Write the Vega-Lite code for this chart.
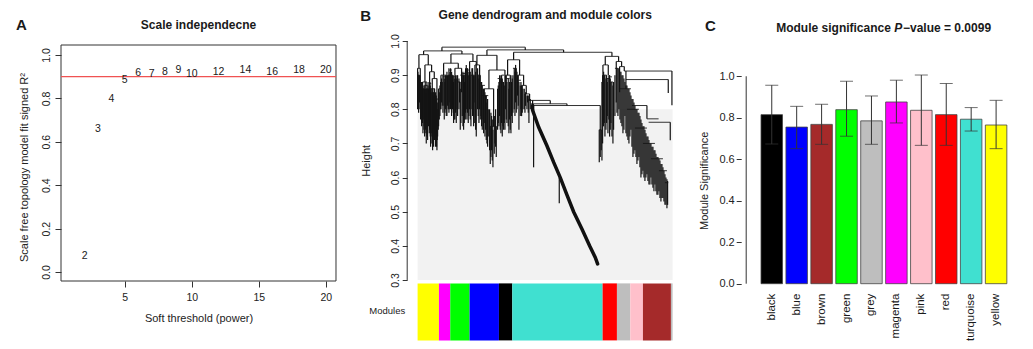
{
 "$schema": "https://vega.github.io/schema/vega-lite/v6.json",
 "background": "white",
 "padding": {"left": 15, "top": 8, "right": 0, "bottom": 0},
 "bounds": "flush",
 "spacing": 68.6,
 "config": {
  "font": "Liberation Sans",
  "view": {"stroke": null},
  "axis": {"grid": false, "labelColor": "#222", "titleColor": "#222", "tickColor": "#333", "domainColor": "#333", "labelFontSize": 10.5, "titleFontSize": 11, "titleFontWeight": "normal"},
  "text": {"color": "#1a1a1a"}
 },
 "datasets": {
  "modules": [
   {"module": "black", "pos": 0.7, "ms": 0.815, "lo": 0.673, "hi": 0.957},
   {"module": "blue", "pos": 1.9, "ms": 0.755, "lo": 0.651, "hi": 0.855},
   {"module": "brown", "pos": 3.1, "ms": 0.768, "lo": 0.672, "hi": 0.865},
   {"module": "green", "pos": 4.3, "ms": 0.839, "lo": 0.711, "hi": 0.976},
   {"module": "grey", "pos": 5.5, "ms": 0.785, "lo": 0.672, "hi": 0.905},
   {"module": "magenta", "pos": 6.7, "ms": 0.876, "lo": 0.775, "hi": 0.981},
   {"module": "pink", "pos": 7.9, "ms": 0.836, "lo": 0.667, "hi": 1.006},
   {"module": "red", "pos": 9.1, "ms": 0.815, "lo": 0.667, "hi": 0.965},
   {"module": "turquoise", "pos": 10.3, "ms": 0.793, "lo": 0.736, "hi": 0.849},
   {"module": "yellow", "pos": 11.5, "ms": 0.765, "lo": 0.651, "hi": 0.884}
  ]
 },
 "hconcat": [
  {
   "width": 287.1,
   "height": 240,
   "layer": [
    {
     "data": {"values": [{}]},
     "mark": {"type": "rect", "fillOpacity": 0, "stroke": "#333", "strokeWidth": 1},
     "encoding": {
      "x": {"datum": 0.24, "type": "quantitative", "scale": {"domain": [0.24, 21.663], "nice": false, "zero": false},
       "axis": {"values": [5, 10, 15, 20], "domain": false, "tickSize": 6, "labelPadding": 5, "labelFlush": false, "title": "Soft threshold (power)", "titleX": 137.5, "titleY": 37, "titleAlign": "center", "titleBaseline": "middle"}},
      "x2": {"datum": 20.76},
      "y": {"datum": -0.0415, "type": "quantitative", "scale": {"domain": [-0.0415, 1.0645], "nice": false, "zero": false},
       "axis": {"values": [0, 0.2, 0.4, 0.6, 0.8, 1], "format": ".1f", "domain": false, "tickSize": 6, "labelAngle": -90, "labelAlign": "center", "labelBaseline": "bottom", "labelPadding": 4, "title": "Scale free topology model fit signed R²", "titleAngle": -90, "titleX": -36.7, "titleY": 126, "titleAlign": "center", "titleBaseline": "middle"}},
      "y2": {"datum": 1.046}
     }
    },
    {
     "data": {"values": [{}]},
     "mark": {"type": "rule", "color": "#f05252", "strokeWidth": 1.2},
     "encoding": {"x": {"datum": 0.24, "type": "quantitative"}, "x2": {"datum": 20.76}, "y": {"datum": 0.9, "type": "quantitative"}}
    },
    {
     "data": {"values": [
      {"power": 2, "r2": 0.074}, {"power": 3, "r2": 0.657}, {"power": 4, "r2": 0.797}, {"power": 5, "r2": 0.885},
      {"power": 6, "r2": 0.918}, {"power": 7, "r2": 0.912}, {"power": 8, "r2": 0.923}, {"power": 9, "r2": 0.929},
      {"power": 10, "r2": 0.912}, {"power": 12, "r2": 0.92}, {"power": 14, "r2": 0.929}, {"power": 16, "r2": 0.922},
      {"power": 18, "r2": 0.929}, {"power": 20, "r2": 0.932}
     ]},
     "mark": {"type": "text", "fontSize": 10.5, "align": "center", "baseline": "middle"},
     "encoding": {"x": {"field": "power", "type": "quantitative"}, "y": {"field": "r2", "type": "quantitative"}, "text": {"field": "power", "type": "nominal"}}
    },
    {
     "data": {"values": [{}]},
     "mark": {"type": "text", "text": "A", "fontSize": 15, "fontWeight": "bold", "align": "left", "baseline": "middle"},
     "encoding": {"x": {"datum": -3.118, "type": "quantitative"}, "y": {"datum": 1.137, "type": "quantitative"}}
    },
    {
     "data": {"values": [{}]},
     "mark": {"type": "text", "text": "Scale independecne", "fontSize": 12, "fontWeight": "bold", "align": "center", "baseline": "middle"},
     "encoding": {"x": {"datum": 10.5, "type": "quantitative"}, "y": {"datum": 1.137, "type": "quantitative"}}
    }
   ]
  },
  {
   "width": 255,
   "height": 299.4,
   "layer": [
    {
     "data": {"values": [{}]},
     "mark": {"type": "rect", "fill": "#f2f2f2"},
     "encoding": {
      "x": {"datum": 0, "type": "quantitative", "scale": {"domain": [0, 765], "nice": false, "zero": false}, "axis": null},
      "x2": {"datum": 765},
      "y": {"datum": 0.3, "type": "quantitative", "scale": {"domain": [0.123, 1.0], "nice": false, "zero": false},
       "axis": {"values": [0.3, 0.4, 0.5, 0.6, 0.7, 0.8, 0.9, 1.0], "format": ".1f", "domain": false, "offset": 10.4, "tickSize": 5, "labelAngle": -90, "labelAlign": "center", "labelBaseline": "bottom", "labelPadding": 2, "title": "Height", "titleAngle": -90, "titleX": -41, "titleY": 119.3, "titleAlign": "center", "titleBaseline": "middle"}},
      "y2": {"datum": 0.8}
     }
    },
    {
     "data": {"values": [{}]},
     "mark": {"type": "rule", "color": "#333", "strokeWidth": 1},
     "encoding": {"x": {"datum": -31.2, "type": "quantitative"}, "y": {"datum": 0.3, "type": "quantitative"}, "y2": {"datum": 1.0}}
    },
    {
     "data": {"values": [
      {"module": "yellow", "start": 0, "end": 64}, {"module": "magenta", "start": 64, "end": 98},
      {"module": "green", "start": 98, "end": 156}, {"module": "blue", "start": 156, "end": 244},
      {"module": "black", "start": 244, "end": 284}, {"module": "turquoise", "start": 284, "end": 555},
      {"module": "red", "start": 555, "end": 598}, {"module": "grey", "start": 598, "end": 638},
      {"module": "pink", "start": 638, "end": 676}, {"module": "brown", "start": 676, "end": 760},
      {"module": "grey", "start": 760, "end": 765}
     ]},
     "mark": {"type": "rect"},
     "encoding": {
      "x": {"field": "start", "type": "quantitative"},
      "x2": {"field": "end"},
      "y": {"datum": 0.29, "type": "quantitative"},
      "y2": {"datum": 0.123},
      "color": {"field": "module", "type": "nominal", "legend": null,
       "scale": {"domain": ["black", "blue", "brown", "green", "grey", "magenta", "pink", "red", "turquoise", "yellow"],
                 "range": ["#000000", "#0000FF", "#A52A2A", "#00FF00", "#BEBEBE", "#FF00FF", "#FFC0CB", "#FF0000", "#40E0D0", "#FFFF00"]}}
     }
    },
    {
     "data": {"values": [{}]},
     "mark": {"type": "text", "text": "Modules", "fontSize": 9.5, "align": "right", "baseline": "middle"},
     "encoding": {"x": {"datum": -37, "type": "quantitative"}, "y": {"datum": 0.2083, "type": "quantitative"}}
    },
    {
     "data": {"values": [
      {"a": 73, "z": 323, "h": 0.982}, {"a": 208, "z": 438, "h": 0.974}, {"a": 288, "z": 583, "h": 0.967}, {"a": 18, "z": 133, "h": 0.971},
      {"a": 4, "z": 32, "h": 0.96}, {"a": 0, "z": 8, "h": 0.92}, {"a": 22, "z": 42, "h": 0.93}, {"a": 15, "z": 28, "h": 0.88},
      {"a": 36, "z": 50, "h": 0.91}, {"a": 44, "z": 58, "h": 0.89}, {"a": 0, "z": 6, "h": 0.9}, {"a": 11, "z": 19, "h": 0.86},
      {"a": 25, "z": 33, "h": 0.86}, {"a": 39, "z": 47, "h": 0.86}, {"a": 53, "z": 62, "h": 0.83},
      {"a": 100, "z": 166, "h": 0.962}, {"a": 78, "z": 122, "h": 0.935}, {"a": 70, "z": 86, "h": 0.9}, {"a": 112, "z": 132, "h": 0.92},
      {"a": 156, "z": 176, "h": 0.94}, {"a": 92, "z": 105, "h": 0.9}, {"a": 118, "z": 128, "h": 0.88}, {"a": 128, "z": 144, "h": 0.9},
      {"a": 160, "z": 170, "h": 0.9},
      {"a": 178, "z": 238, "h": 0.958}, {"a": 172, "z": 186, "h": 0.93}, {"a": 214, "z": 262, "h": 0.915}, {"a": 200, "z": 228, "h": 0.86},
      {"a": 218, "z": 236, "h": 0.75}, {"a": 244, "z": 256, "h": 0.88}, {"a": 190, "z": 212, "h": 0.84},
      {"a": 270, "z": 306, "h": 0.945}, {"a": 264, "z": 278, "h": 0.9}, {"a": 300, "z": 318, "h": 0.9}, {"a": 312, "z": 326, "h": 0.87},
      {"a": 322, "z": 336, "h": 0.845}, {"a": 328, "z": 398, "h": 0.826}, {"a": 340, "z": 448, "h": 0.816}, {"a": 345, "z": 548, "h": 0.811},
      {"a": 545, "z": 551, "h": 0.74},
      {"a": 563, "z": 603, "h": 0.955}, {"a": 556, "z": 572, "h": 0.93}, {"a": 553, "z": 560, "h": 0.88}, {"a": 565, "z": 576, "h": 0.89},
      {"a": 580, "z": 586, "h": 0.88}, {"a": 596, "z": 612, "h": 0.94}, {"a": 606, "z": 620, "h": 0.925}, {"a": 620, "z": 763, "h": 0.912},
      {"a": 625, "z": 752, "h": 0.887}, {"a": 643, "z": 688, "h": 0.811}, {"a": 688, "z": 723, "h": 0.772}, {"a": 693, "z": 758, "h": 0.762},
      {"a": 604, "z": 640, "h": 0.86}, {"a": 628, "z": 664, "h": 0.8}, {"a": 652, "z": 688, "h": 0.745}, {"a": 676, "z": 712, "h": 0.7},
      {"a": 700, "z": 736, "h": 0.655}, {"a": 724, "z": 748, "h": 0.62}, {"a": 742, "z": 752, "h": 0.585},
      {"a": 1, "z": 10, "h": 0.885}, {"a": 20, "z": 30, "h": 0.87}, {"a": 34, "z": 41, "h": 0.875}, {"a": 45, "z": 52, "h": 0.86},
      {"a": 63, "z": 72, "h": 0.86}, {"a": 76, "z": 88, "h": 0.895}, {"a": 94, "z": 103, "h": 0.915}, {"a": 107, "z": 116, "h": 0.895},
      {"a": 134, "z": 143, "h": 0.905}, {"a": 146, "z": 154, "h": 0.915}, {"a": 180, "z": 188, "h": 0.9}, {"a": 192, "z": 202, "h": 0.87},
      {"a": 240, "z": 248, "h": 0.89}, {"a": 252, "z": 260, "h": 0.9}, {"a": 266, "z": 276, "h": 0.89}, {"a": 286, "z": 296, "h": 0.92},
      {"a": 302, "z": 310, "h": 0.885}, {"a": 558, "z": 567, "h": 0.9}, {"a": 574, "z": 583, "h": 0.895}, {"a": 592, "z": 601, "h": 0.92}
     ]},
     "mark": {"type": "rule", "color": "#333", "strokeWidth": 1},
     "encoding": {"x": {"field": "a", "type": "quantitative"}, "x2": {"field": "z"}, "y": {"field": "h", "type": "quantitative"}}
    },
    {
     "data": {"values": [
      {"p": 73, "t": 0.982, "b": 0.971}, {"p": 323, "t": 0.982, "b": 0.974}, {"p": 208, "t": 0.974, "b": 0.958}, {"p": 438, "t": 0.974, "b": 0.967},
      {"p": 288, "t": 0.967, "b": 0.945}, {"p": 583, "t": 0.967, "b": 0.955}, {"p": 18, "t": 0.971, "b": 0.96}, {"p": 133, "t": 0.971, "b": 0.962},
      {"p": 4, "t": 0.96, "b": 0.92}, {"p": 32, "t": 0.96, "b": 0.93}, {"p": 0, "t": 0.92, "b": 0.8}, {"p": 8, "t": 0.92, "b": 0.86},
      {"p": 22, "t": 0.93, "b": 0.88}, {"p": 42, "t": 0.93, "b": 0.91}, {"p": 15, "t": 0.88, "b": 0.76}, {"p": 28, "t": 0.88, "b": 0.72},
      {"p": 36, "t": 0.91, "b": 0.74}, {"p": 50, "t": 0.91, "b": 0.89}, {"p": 44, "t": 0.89, "b": 0.7}, {"p": 58, "t": 0.89, "b": 0.68},
      {"p": 2, "t": 0.9, "b": 0.84}, {"p": 6, "t": 0.9, "b": 0.82}, {"p": 11, "t": 0.88, "b": 0.78}, {"p": 13, "t": 0.86, "b": 0.8},
      {"p": 19, "t": 0.86, "b": 0.74}, {"p": 25, "t": 0.85, "b": 0.73}, {"p": 31, "t": 0.87, "b": 0.79}, {"p": 33, "t": 0.86, "b": 0.75},
      {"p": 39, "t": 0.86, "b": 0.69}, {"p": 47, "t": 0.85, "b": 0.71}, {"p": 53, "t": 0.84, "b": 0.75}, {"p": 55, "t": 0.83, "b": 0.7},
      {"p": 62, "t": 0.8, "b": 0.74},
      {"p": 100, "t": 0.962, "b": 0.935}, {"p": 166, "t": 0.962, "b": 0.94}, {"p": 78, "t": 0.935, "b": 0.9}, {"p": 122, "t": 0.935, "b": 0.92},
      {"p": 70, "t": 0.9, "b": 0.8}, {"p": 86, "t": 0.9, "b": 0.78}, {"p": 112, "t": 0.92, "b": 0.77}, {"p": 132, "t": 0.92, "b": 0.85},
      {"p": 156, "t": 0.94, "b": 0.8}, {"p": 176, "t": 0.94, "b": 0.72},
      {"p": 74, "t": 0.88, "b": 0.81}, {"p": 82, "t": 0.88, "b": 0.79}, {"p": 92, "t": 0.9, "b": 0.8}, {"p": 97, "t": 0.91, "b": 0.82},
      {"p": 105, "t": 0.9, "b": 0.8}, {"p": 108, "t": 0.88, "b": 0.76}, {"p": 118, "t": 0.9, "b": 0.8}, {"p": 126, "t": 0.88, "b": 0.82},
      {"p": 128, "t": 0.86, "b": 0.74}, {"p": 138, "t": 0.9, "b": 0.74}, {"p": 141, "t": 0.88, "b": 0.77}, {"p": 144, "t": 0.92, "b": 0.79},
      {"p": 160, "t": 0.9, "b": 0.75}, {"p": 163, "t": 0.92, "b": 0.8}, {"p": 170, "t": 0.9, "b": 0.76},
      {"p": 178, "t": 0.958, "b": 0.93}, {"p": 238, "t": 0.958, "b": 0.915}, {"p": 172, "t": 0.93, "b": 0.82}, {"p": 186, "t": 0.93, "b": 0.8},
      {"p": 214, "t": 0.915, "b": 0.86}, {"p": 262, "t": 0.915, "b": 0.74}, {"p": 200, "t": 0.86, "b": 0.76}, {"p": 228, "t": 0.86, "b": 0.75},
      {"p": 218, "t": 0.75, "b": 0.64}, {"p": 236, "t": 0.75, "b": 0.66},
      {"p": 190, "t": 0.88, "b": 0.78}, {"p": 196, "t": 0.86, "b": 0.77}, {"p": 204, "t": 0.84, "b": 0.74}, {"p": 208, "t": 0.82, "b": 0.7},
      {"p": 212, "t": 0.8, "b": 0.72}, {"p": 222, "t": 0.78, "b": 0.68}, {"p": 226, "t": 0.74, "b": 0.63}, {"p": 232, "t": 0.78, "b": 0.7},
      {"p": 244, "t": 0.88, "b": 0.75}, {"p": 250, "t": 0.9, "b": 0.73}, {"p": 256, "t": 0.88, "b": 0.75},
      {"p": 270, "t": 0.945, "b": 0.9}, {"p": 306, "t": 0.945, "b": 0.9}, {"p": 264, "t": 0.9, "b": 0.8}, {"p": 278, "t": 0.9, "b": 0.74},
      {"p": 268, "t": 0.88, "b": 0.76}, {"p": 274, "t": 0.86, "b": 0.73}, {"p": 282, "t": 0.88, "b": 0.78},
      {"p": 300, "t": 0.9, "b": 0.84}, {"p": 318, "t": 0.9, "b": 0.87}, {"p": 312, "t": 0.87, "b": 0.78}, {"p": 326, "t": 0.87, "b": 0.845},
      {"p": 322, "t": 0.845, "b": 0.79}, {"p": 336, "t": 0.845, "b": 0.826},
      {"p": 304, "t": 0.88, "b": 0.74}, {"p": 308, "t": 0.87, "b": 0.78}, {"p": 316, "t": 0.86, "b": 0.8}, {"p": 330, "t": 0.84, "b": 0.82},
      {"p": 334, "t": 0.83, "b": 0.76},
      {"p": 398, "t": 0.826, "b": 0.816}, {"p": 448, "t": 0.816, "b": 0.811}, {"p": 548, "t": 0.811, "b": 0.66}, {"p": 345, "t": 0.826, "b": 0.8},
      {"p": 348, "t": 0.8, "b": 0.63}, {"p": 545, "t": 0.74, "b": 0.645}, {"p": 551, "t": 0.74, "b": 0.68}, {"p": 425, "t": 0.6, "b": 0.525},
      {"p": 563, "t": 0.955, "b": 0.93}, {"p": 603, "t": 0.955, "b": 0.94}, {"p": 556, "t": 0.93, "b": 0.8}, {"p": 572, "t": 0.93, "b": 0.9},
      {"p": 553, "t": 0.88, "b": 0.65}, {"p": 560, "t": 0.9, "b": 0.76}, {"p": 565, "t": 0.89, "b": 0.74}, {"p": 569, "t": 0.88, "b": 0.78},
      {"p": 576, "t": 0.9, "b": 0.72}, {"p": 580, "t": 0.88, "b": 0.76}, {"p": 586, "t": 0.87, "b": 0.7},
      {"p": 596, "t": 0.94, "b": 0.82}, {"p": 612, "t": 0.94, "b": 0.925}, {"p": 606, "t": 0.925, "b": 0.85}, {"p": 620, "t": 0.925, "b": 0.912},
      {"p": 763, "t": 0.912, "b": 0.812}, {"p": 625, "t": 0.912, "b": 0.86}, {"p": 752, "t": 0.887, "b": 0.848}, {"p": 758, "t": 0.762, "b": 0.709},
      {"p": 688, "t": 0.811, "b": 0.772},
      {"p": 604, "t": 0.92, "b": 0.8}, {"p": 610, "t": 0.91, "b": 0.76}, {"p": 616, "t": 0.9, "b": 0.73}, {"p": 622, "t": 0.88, "b": 0.78},
      {"p": 628, "t": 0.87, "b": 0.72}, {"p": 634, "t": 0.86, "b": 0.7}, {"p": 640, "t": 0.84, "b": 0.74}, {"p": 646, "t": 0.83, "b": 0.66},
      {"p": 652, "t": 0.81, "b": 0.68}, {"p": 658, "t": 0.8, "b": 0.64}, {"p": 664, "t": 0.79, "b": 0.66}, {"p": 670, "t": 0.77, "b": 0.6},
      {"p": 676, "t": 0.75, "b": 0.62}, {"p": 682, "t": 0.74, "b": 0.59}, {"p": 688, "t": 0.72, "b": 0.61}, {"p": 694, "t": 0.71, "b": 0.58},
      {"p": 700, "t": 0.7, "b": 0.6}, {"p": 706, "t": 0.69, "b": 0.57}, {"p": 712, "t": 0.68, "b": 0.58}, {"p": 718, "t": 0.66, "b": 0.55},
      {"p": 724, "t": 0.655, "b": 0.56}, {"p": 730, "t": 0.64, "b": 0.53}, {"p": 736, "t": 0.63, "b": 0.54}, {"p": 742, "t": 0.61, "b": 0.52},
      {"p": 748, "t": 0.595, "b": 0.51},
      {"p": 1, "t": 0.91, "b": 0.82}, {"p": 3, "t": 0.9, "b": 0.79}, {"p": 5, "t": 0.89, "b": 0.83}, {"p": 7, "t": 0.9, "b": 0.8},
      {"p": 9, "t": 0.88, "b": 0.77}, {"p": 10, "t": 0.87, "b": 0.81}, {"p": 12, "t": 0.88, "b": 0.75}, {"p": 14, "t": 0.86, "b": 0.78},
      {"p": 16, "t": 0.87, "b": 0.73}, {"p": 17, "t": 0.86, "b": 0.77}, {"p": 20, "t": 0.87, "b": 0.75}, {"p": 21, "t": 0.86, "b": 0.72},
      {"p": 23, "t": 0.88, "b": 0.76}, {"p": 24, "t": 0.86, "b": 0.74}, {"p": 26, "t": 0.85, "b": 0.7}, {"p": 27, "t": 0.86, "b": 0.76},
      {"p": 29, "t": 0.85, "b": 0.74}, {"p": 30, "t": 0.86, "b": 0.71}, {"p": 34, "t": 0.88, "b": 0.77}, {"p": 35, "t": 0.87, "b": 0.73},
      {"p": 37, "t": 0.88, "b": 0.75}, {"p": 38, "t": 0.87, "b": 0.72}, {"p": 40, "t": 0.86, "b": 0.7}, {"p": 41, "t": 0.85, "b": 0.73},
      {"p": 43, "t": 0.86, "b": 0.72}, {"p": 45, "t": 0.85, "b": 0.68}, {"p": 46, "t": 0.86, "b": 0.72}, {"p": 48, "t": 0.84, "b": 0.69},
      {"p": 49, "t": 0.85, "b": 0.74}, {"p": 51, "t": 0.86, "b": 0.71}, {"p": 52, "t": 0.84, "b": 0.73}, {"p": 54, "t": 0.85, "b": 0.69},
      {"p": 56, "t": 0.84, "b": 0.72}, {"p": 57, "t": 0.83, "b": 0.69}, {"p": 59, "t": 0.82, "b": 0.71}, {"p": 60, "t": 0.8, "b": 0.72},
      {"p": 63, "t": 0.86, "b": 0.75}, {"p": 65, "t": 0.85, "b": 0.77}, {"p": 67, "t": 0.87, "b": 0.78}, {"p": 69, "t": 0.88, "b": 0.8},
      {"p": 72, "t": 0.89, "b": 0.82}, {"p": 76, "t": 0.9, "b": 0.79}, {"p": 79, "t": 0.9, "b": 0.81}, {"p": 80, "t": 0.89, "b": 0.77},
      {"p": 84, "t": 0.9, "b": 0.8}, {"p": 88, "t": 0.91, "b": 0.78}, {"p": 90, "t": 0.9, "b": 0.81}, {"p": 94, "t": 0.92, "b": 0.79},
      {"p": 95, "t": 0.9, "b": 0.8}, {"p": 99, "t": 0.92, "b": 0.8}, {"p": 102, "t": 0.91, "b": 0.78}, {"p": 103, "t": 0.9, "b": 0.81},
      {"p": 107, "t": 0.9, "b": 0.79}, {"p": 110, "t": 0.89, "b": 0.77}, {"p": 114, "t": 0.9, "b": 0.79}, {"p": 116, "t": 0.89, "b": 0.76},
      {"p": 120, "t": 0.9, "b": 0.78}, {"p": 124, "t": 0.89, "b": 0.8}, {"p": 130, "t": 0.88, "b": 0.76}, {"p": 134, "t": 0.9, "b": 0.78},
      {"p": 136, "t": 0.91, "b": 0.75}, {"p": 140, "t": 0.9, "b": 0.76}, {"p": 143, "t": 0.91, "b": 0.77}, {"p": 146, "t": 0.93, "b": 0.8},
      {"p": 148, "t": 0.92, "b": 0.77}, {"p": 150, "t": 0.92, "b": 0.79}, {"p": 152, "t": 0.9, "b": 0.76}, {"p": 154, "t": 0.91, "b": 0.78},
      {"p": 158, "t": 0.91, "b": 0.77}, {"p": 165, "t": 0.92, "b": 0.78}, {"p": 168, "t": 0.9, "b": 0.75}, {"p": 174, "t": 0.91, "b": 0.74},
      {"p": 180, "t": 0.92, "b": 0.8}, {"p": 182, "t": 0.9, "b": 0.78}, {"p": 184, "t": 0.89, "b": 0.76}, {"p": 188, "t": 0.9, "b": 0.77},
      {"p": 192, "t": 0.88, "b": 0.75}, {"p": 194, "t": 0.87, "b": 0.74}, {"p": 198, "t": 0.86, "b": 0.73}, {"p": 202, "t": 0.85, "b": 0.72},
      {"p": 206, "t": 0.84, "b": 0.71}, {"p": 210, "t": 0.83, "b": 0.69}, {"p": 216, "t": 0.8, "b": 0.68}, {"p": 220, "t": 0.79, "b": 0.66},
      {"p": 224, "t": 0.77, "b": 0.65}, {"p": 230, "t": 0.78, "b": 0.67}, {"p": 234, "t": 0.8, "b": 0.69}, {"p": 240, "t": 0.86, "b": 0.74},
      {"p": 242, "t": 0.87, "b": 0.76}, {"p": 246, "t": 0.9, "b": 0.78}, {"p": 248, "t": 0.89, "b": 0.74}, {"p": 252, "t": 0.9, "b": 0.76},
      {"p": 254, "t": 0.89, "b": 0.72}, {"p": 258, "t": 0.88, "b": 0.74}, {"p": 260, "t": 0.87, "b": 0.76}, {"p": 266, "t": 0.9, "b": 0.77},
      {"p": 272, "t": 0.89, "b": 0.75}, {"p": 276, "t": 0.88, "b": 0.77}, {"p": 280, "t": 0.9, "b": 0.73}, {"p": 284, "t": 0.89, "b": 0.76},
      {"p": 286, "t": 0.9, "b": 0.79}, {"p": 290, "t": 0.92, "b": 0.8}, {"p": 292, "t": 0.91, "b": 0.78}, {"p": 294, "t": 0.93, "b": 0.82},
      {"p": 296, "t": 0.92, "b": 0.79}, {"p": 298, "t": 0.91, "b": 0.8}, {"p": 302, "t": 0.9, "b": 0.81}, {"p": 310, "t": 0.88, "b": 0.8},
      {"p": 314, "t": 0.87, "b": 0.79}, {"p": 320, "t": 0.86, "b": 0.8}, {"p": 324, "t": 0.85, "b": 0.81}, {"p": 328, "t": 0.84, "b": 0.8},
      {"p": 332, "t": 0.84, "b": 0.79}, {"p": 338, "t": 0.83, "b": 0.8},
      {"p": 555, "t": 0.9, "b": 0.7}, {"p": 558, "t": 0.91, "b": 0.75}, {"p": 562, "t": 0.9, "b": 0.72}, {"p": 567, "t": 0.9, "b": 0.76},
      {"p": 571, "t": 0.89, "b": 0.73}, {"p": 574, "t": 0.9, "b": 0.77}, {"p": 578, "t": 0.89, "b": 0.74}, {"p": 583, "t": 0.88, "b": 0.72},
      {"p": 588, "t": 0.88, "b": 0.74}, {"p": 592, "t": 0.9, "b": 0.78}, {"p": 598, "t": 0.92, "b": 0.79}, {"p": 601, "t": 0.92, "b": 0.78},
      {"p": 607, "t": 0.91, "b": 0.77}, {"p": 613, "t": 0.9, "b": 0.75}, {"p": 619, "t": 0.89, "b": 0.74}, {"p": 625, "t": 0.87, "b": 0.73},
      {"p": 631, "t": 0.86, "b": 0.71}, {"p": 637, "t": 0.85, "b": 0.72}, {"p": 643, "t": 0.83, "b": 0.69}, {"p": 649, "t": 0.82, "b": 0.67},
      {"p": 655, "t": 0.8, "b": 0.66}, {"p": 661, "t": 0.79, "b": 0.65}, {"p": 667, "t": 0.78, "b": 0.63}, {"p": 673, "t": 0.76, "b": 0.61},
      {"p": 679, "t": 0.75, "b": 0.6}, {"p": 685, "t": 0.73, "b": 0.6}, {"p": 691, "t": 0.72, "b": 0.59}, {"p": 697, "t": 0.7, "b": 0.58},
      {"p": 703, "t": 0.69, "b": 0.58}, {"p": 709, "t": 0.68, "b": 0.56}, {"p": 715, "t": 0.67, "b": 0.56}, {"p": 721, "t": 0.66, "b": 0.55},
      {"p": 727, "t": 0.65, "b": 0.54}, {"p": 733, "t": 0.64, "b": 0.54}, {"p": 739, "t": 0.62, "b": 0.53}, {"p": 745, "t": 0.6, "b": 0.52},
      {"p": 750, "t": 0.59, "b": 0.52}
     ]},
     "mark": {"type": "rule", "color": "#141414", "strokeWidth": 1.2},
     "encoding": {"x": {"field": "p", "type": "quantitative"}, "y": {"field": "t", "type": "quantitative"}, "y2": {"field": "b"}}
    },
    {
     "data": {"values": [
      {"p": 345, "h": 0.811}, {"p": 345, "h": 0.797}, {"p": 363, "h": 0.748}, {"p": 388, "h": 0.693}, {"p": 408, "h": 0.645},
      {"p": 428, "h": 0.6}, {"p": 448, "h": 0.549}, {"p": 468, "h": 0.5}, {"p": 493, "h": 0.449}, {"p": 516, "h": 0.4},
      {"p": 533, "h": 0.366}, {"p": 540, "h": 0.347}
     ]},
     "mark": {"type": "line", "color": "#111", "strokeWidth": 3.5, "strokeCap": "round"},
     "encoding": {"x": {"field": "p", "type": "quantitative"}, "y": {"field": "h", "type": "quantitative"}}
    },
    {
     "data": {"values": [{}]},
     "mark": {"type": "text", "text": "B", "fontSize": 15, "fontWeight": "bold", "align": "left", "baseline": "middle"},
     "encoding": {"x": {"datum": -172, "type": "quantitative"}, "y": {"datum": 1.0738, "type": "quantitative"}}
    },
    {
     "data": {"values": [{}]},
     "mark": {"type": "text", "text": "Gene dendrogram and module colors", "fontSize": 12, "fontWeight": "bold", "align": "center", "baseline": "middle"},
     "encoding": {"x": {"datum": 383, "type": "quantitative"}, "y": {"datum": 1.0753, "type": "quantitative"}}
    }
   ]
  },
  {
   "width": 295,
   "height": 251,
   "layer": [
    {
     "data": {"name": "modules"},
     "mark": {"type": "bar", "width": 21.5, "stroke": "#444", "strokeWidth": 0.8},
     "encoding": {
      "x": {"field": "pos", "type": "quantitative", "scale": {"domain": [-0.53, 13.19], "nice": false, "zero": false}, "axis": null},
      "y": {"field": "ms", "type": "quantitative", "scale": {"domain": [-0.04, 1.17], "nice": false, "zero": false},
       "axis": {"values": [0, 0.2, 0.4, 0.6, 0.8, 1], "format": ".1f", "domain": false, "tickSize": 5, "labelPadding": 2, "labelFontSize": 11, "labelAngle": 0, "labelAlign": "right", "labelBaseline": "middle", "title": "Module Significance", "titleAngle": -90, "titleX": -36.5, "titleY": 139.3, "titleAlign": "center", "titleBaseline": "middle"}},
      "y2": {"datum": 0},
      "color": {"field": "module", "type": "nominal", "legend": null,
       "scale": {"domain": ["black", "blue", "brown", "green", "grey", "magenta", "pink", "red", "turquoise", "yellow"],
                 "range": ["#000000", "#0000FF", "#A52A2A", "#00FF00", "#BEBEBE", "#FF00FF", "#FFC0CB", "#FF0000", "#40E0D0", "#FFFF00"]}}
     }
    },
    {
     "data": {"name": "modules"},
     "mark": {"type": "rule", "color": "#333", "strokeWidth": 1},
     "encoding": {"x": {"field": "pos", "type": "quantitative"}, "y": {"field": "lo", "type": "quantitative"}, "y2": {"field": "hi"}}
    },
    {
     "data": {"name": "modules"},
     "mark": {"type": "tick", "orient": "horizontal", "size": 13, "thickness": 1, "color": "#333"},
     "encoding": {"x": {"field": "pos", "type": "quantitative"}, "y": {"field": "hi", "type": "quantitative"}}
    },
    {
     "data": {"name": "modules"},
     "mark": {"type": "tick", "orient": "horizontal", "size": 13, "thickness": 1, "color": "#333"},
     "encoding": {"x": {"field": "pos", "type": "quantitative"}, "y": {"field": "lo", "type": "quantitative"}}
    },
    {
     "data": {"values": [{}]},
     "mark": {"type": "rule", "color": "#333", "strokeWidth": 1},
     "encoding": {"x": {"datum": -0.53, "type": "quantitative"}, "y": {"datum": 0, "type": "quantitative"}, "y2": {"datum": 1}}
    },
    {
     "data": {"name": "modules"},
     "mark": {"type": "text", "angle": 270, "align": "right", "baseline": "middle", "fontSize": 11.5},
     "encoding": {"x": {"field": "pos", "type": "quantitative"}, "y": {"datum": -0.048, "type": "quantitative"}, "text": {"field": "module", "type": "nominal"}}
    },
    {
     "data": {"values": [{}]},
     "mark": {"type": "text", "text": "C", "fontSize": 15, "fontWeight": "bold", "align": "left", "baseline": "middle"},
     "encoding": {"x": {"datum": -2.512, "type": "quantitative"}, "y": {"datum": 1.241, "type": "quantitative"}}
    },
    {
     "data": {"values": [{}]},
     "mark": {"type": "text", "text": "Module significance", "fontSize": 12, "fontWeight": "bold", "align": "right", "baseline": "middle"},
     "encoding": {"x": {"datum": 6.436, "type": "quantitative"}, "y": {"datum": 1.234, "type": "quantitative"}}
    },
    {
     "data": {"values": [{}]},
     "mark": {"type": "text", "text": "P", "fontSize": 12, "fontWeight": "bold", "fontStyle": "italic", "align": "left", "baseline": "middle"},
     "encoding": {"x": {"datum": 6.599, "type": "quantitative"}, "y": {"datum": 1.234, "type": "quantitative"}}
    },
    {
     "data": {"values": [{}]},
     "mark": {"type": "text", "text": "−value = 0.0099", "fontSize": 12, "fontWeight": "bold", "align": "left", "baseline": "middle"},
     "encoding": {"x": {"datum": 7.018, "type": "quantitative"}, "y": {"datum": 1.234, "type": "quantitative"}}
    }
   ]
  }
 ]
}
